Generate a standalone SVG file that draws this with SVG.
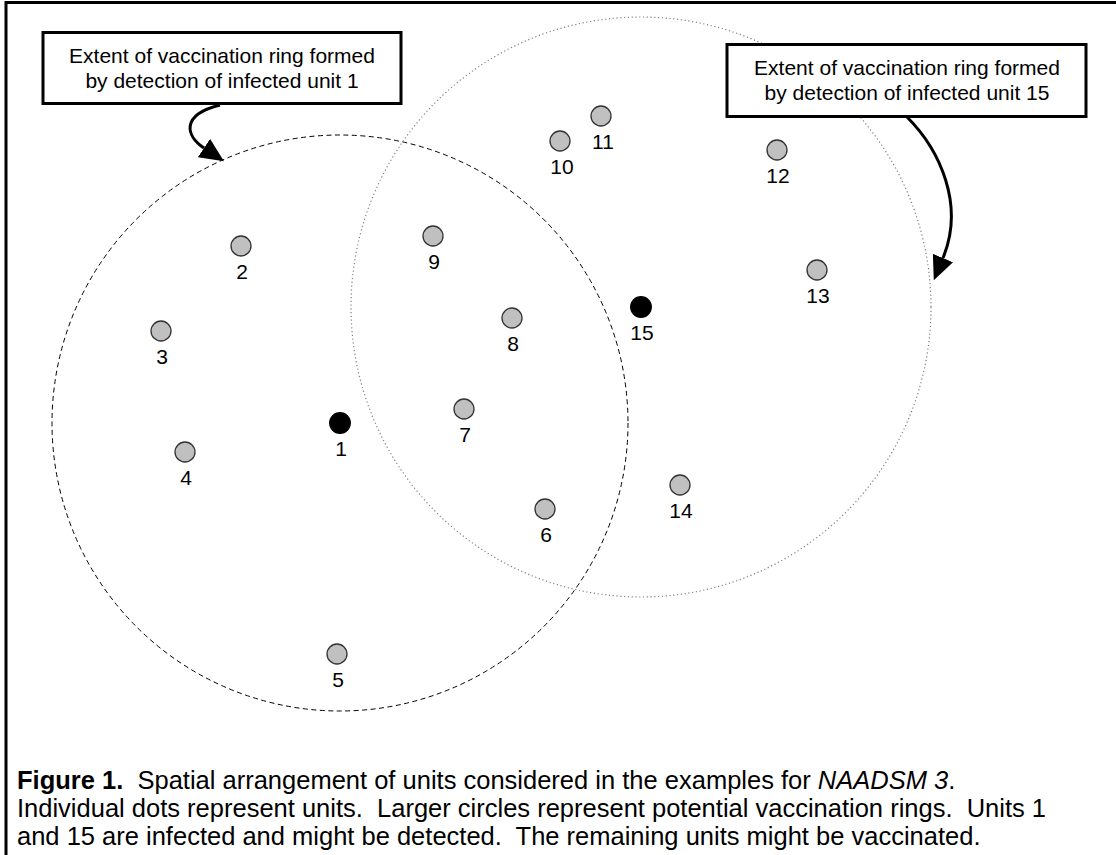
<svg xmlns="http://www.w3.org/2000/svg" width="1116" height="855" viewBox="0 0 1116 855">
<style>
text{font-family:"Liberation Sans",Arial,sans-serif;fill:#000}
.lbl{font-size:21px;text-anchor:middle}
.box{fill:#fff;stroke:#000;stroke-width:3}
.btxt{font-size:21px;text-anchor:middle}
.unit{fill:#c0c0c0;stroke:#333;stroke-width:1.3}
.inf{fill:#000;stroke:#000;stroke-width:1.3}
.cap{font-size:25.5px}
.arr{fill:none;stroke:#000;stroke-width:3}
</style>
<defs>
<marker id="ah" viewBox="0 -11 24 22" refX="0" refY="0" markerWidth="24" markerHeight="22" markerUnits="userSpaceOnUse" orient="auto">
<path d="M0,-11 L24,0 L0,11 z" fill="#000"/>
</marker>
</defs>
<rect width="1116" height="855" fill="#fff"/>
<polyline points="6,855 6,2.5 1116,2.5" fill="none" stroke="#000" stroke-width="3"/>
<g id="rings">
<circle id="ring1" cx="340" cy="423" r="288" fill="none" stroke="#000" stroke-width="1" stroke-dasharray="5 3.5"/>
<circle id="ring15" cx="641" cy="307" r="290" fill="none" stroke="#808080" stroke-width="1.2" stroke-dasharray="1.2 2.6"/>
</g>
<g id="box1">
<rect class="box" x="43" y="32.5" width="358" height="71"/>
<text class="btxt" x="222" y="63">Extent of vaccination ring formed</text>
<text class="btxt" x="222" y="88">by detection of infected unit 1</text>
</g>
<g id="box15">
<rect class="box" x="727" y="44.5" width="359" height="72"/>
<text class="btxt" x="907" y="75">Extent of vaccination ring formed</text>
<text class="btxt" x="907" y="100">by detection of infected unit 15</text>
</g>
<g id="connectors">
<path class="arr" d="M220,105 C180,115 186,136 204,148" marker-end="url(#ah)"/>
<path class="arr" d="M907,117 C940,150 965,205 943,258" marker-end="url(#ah)"/>
</g>
<g id="u1"><circle class="inf" cx="340" cy="423" r="10.3"/><text class="lbl" x="341" y="456">1</text></g>
<g id="u2"><circle class="unit" cx="241" cy="246" r="10"/><text class="lbl" x="242" y="279">2</text></g>
<g id="u3"><circle class="unit" cx="161" cy="331" r="10"/><text class="lbl" x="162" y="364">3</text></g>
<g id="u4"><circle class="unit" cx="185" cy="452" r="10"/><text class="lbl" x="186" y="485">4</text></g>
<g id="u5"><circle class="unit" cx="337" cy="654" r="10"/><text class="lbl" x="338" y="687">5</text></g>
<g id="u6"><circle class="unit" cx="545" cy="509" r="10"/><text class="lbl" x="546" y="542">6</text></g>
<g id="u7"><circle class="unit" cx="464" cy="409" r="10"/><text class="lbl" x="465" y="442">7</text></g>
<g id="u8"><circle class="unit" cx="512" cy="318" r="10"/><text class="lbl" x="513" y="351">8</text></g>
<g id="u9"><circle class="unit" cx="433" cy="236" r="10"/><text class="lbl" x="434" y="269">9</text></g>
<g id="u10"><circle class="unit" cx="560" cy="141" r="10"/><text class="lbl" x="562" y="174">10</text></g>
<g id="u11"><circle class="unit" cx="601" cy="116" r="10"/><text class="lbl" x="603" y="149">11</text></g>
<g id="u12"><circle class="unit" cx="777" cy="150" r="10"/><text class="lbl" x="778" y="183">12</text></g>
<g id="u13"><circle class="unit" cx="817" cy="270" r="10"/><text class="lbl" x="818" y="303">13</text></g>
<g id="u14"><circle class="unit" cx="680" cy="485" r="10"/><text class="lbl" x="681" y="518">14</text></g>
<g id="u15"><circle class="inf" cx="641" cy="307" r="10.3"/><text class="lbl" x="642" y="340">15</text></g>
<g id="caption" class="cap">
<text x="17" y="789"><tspan font-weight="bold">Figure 1.</tspan>&#160; Spatial arrangement of units considered in the examples for <tspan font-style="italic">NAADSM 3</tspan>.</text>
<text x="17" y="817">Individual dots represent units.&#160; Larger circles represent potential vaccination rings.&#160; Units 1</text>
<text x="17" y="845">and 15 are infected and might be detected.&#160; The remaining units might be vaccinated.</text>
</g>
</svg>
